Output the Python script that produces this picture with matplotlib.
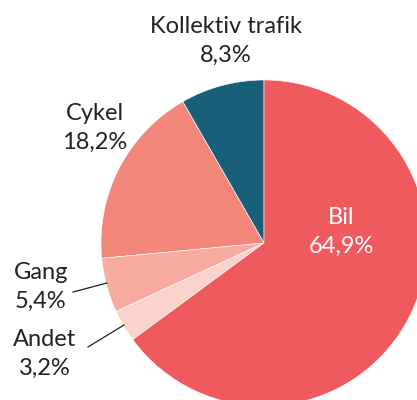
import matplotlib
matplotlib.use("Agg")
import matplotlib.pyplot as plt

# travel mode shares (%)
labels = ["Kollektiv trafik", "Cykel", "Gang", "Andet", "Bil"]
values = [8.3, 18.2, 5.4, 3.2, 64.9]
colors = ["#185f7a", "#f2867a", "#f8aba1", "#fbd3cb", "#ef5a5f"]

plt.rcParams["font.family"] = ["Lato", "DejaVu Sans"]

W, H = 417, 400
fig = plt.figure(figsize=(W / 100, H / 100), dpi=100)
ax = fig.add_axes([0, 0, 1, 1])

# work in pixel-like coordinates (y measured from the top)
ax.pie(values, colors=colors, startangle=90, counterclock=True,
       center=(264, H - 243), radius=163, frame=True,
       wedgeprops=dict(linewidth=0.4, edgecolor="white"))
ax.set_xlim(0, W)
ax.set_ylim(0, H)
ax.set_aspect("equal")
ax.axis("off")

def pct(v):
    return f"{v:.1f}%".replace(".", ",")

fs = 17
pos = {"Kollektiv trafik": (226, 41), "Cykel": (95, 128), "Gang": (41, 287),
       "Andet": (45, 354), "Bil": (341, 232)}
for lab, v in zip(labels, values):
    x, y = pos[lab]
    col = "white" if lab == "Bil" else "#222222"
    ax.text(x, H - y, f"{lab}\n{pct(v)}", ha="center", va="center", fontsize=fs,
            color=col, linespacing=1.45)

# leader lines for the small slices
ax.plot([73, 107], [H - 292, H - 283], color="#222222", lw=0.9)
ax.plot([88, 124], [H - 347, H - 325], color="#222222", lw=0.9)

fig.savefig("out.png", dpi=100)
